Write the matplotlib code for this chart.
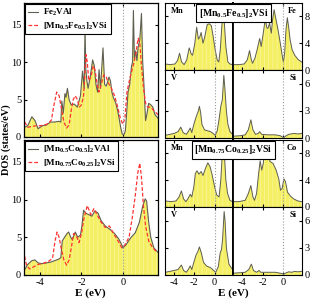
import numpy as np
import matplotlib
matplotlib.use("Agg")
import matplotlib.pyplot as plt

# ---------------------------------------------------------------------------
# data, (E in eV, DOS in states/eV)
# ---------------------------------------------------------------------------
fe2val = [(-4.75, 1.3), (-4.6, 1.5), (-4.4, 2.7), (-4.25, 2.2), (-4.1, 1.1), (-3.9, 1.5),
          (-3.7, 1.6), (-3.5, 2.0), (-3.3, 2.0), (-3.1, 2.1), (-3.0, 2.0), (-2.95, 4.8),
          (-2.88, 3.2), (-2.8, 5.8), (-2.75, 5.3), (-2.68, 6.5), (-2.6, 5.0), (-2.5, 4.3),
          (-2.35, 4.4), (-2.2, 4.0), (-2.05, 5.5), (-1.95, 8.8), (-1.87, 6.5), (-1.83, 14.5),
          (-1.79, 9.0), (-1.74, 7.5), (-1.68, 6.5), (-1.58, 8.0), (-1.46, 10.3), (-1.38, 9.5),
          (-1.3, 7.0), (-1.22, 6.0), (-1.15, 9.0), (-1.08, 6.5), (-0.96, 11.9), (-0.88, 7.0),
          (-0.8, 6.8), (-0.67, 8.0), (-0.6, 7.5), (-0.53, 6.0), (-0.45, 5.2), (-0.35, 4.6),
          (-0.25, 3.5), (-0.18, 2.5), (-0.1, 1.2), (-0.03, 0.4), (0.05, 0.3), (0.12, 0.8),
          (0.18, 3.0), (0.25, 6.0), (0.33, 7.0), (0.42, 9.5), (0.47, 10.0), (0.51, 16.9),
          (0.56, 10.5), (0.62, 11.5), (0.68, 10.2), (0.74, 12.0), (0.82, 13.0), (0.9, 16.5),
          (0.96, 10.0), (1.02, 7.0), (1.1, 2.2), (1.16, 3.0), (1.25, 4.5), (1.35, 4.3),
          (1.45, 4.0), (1.55, 3.0), (1.7, 2.5)]

mnfe_vsi = [(-4.75, 2.0), (-4.6, 1.3), (-4.4, 1.4), (-4.2, 1.5), (-4.0, 1.5), (-3.8, 1.6),
            (-3.6, 1.8), (-3.45, 2.3), (-3.35, 4.0), (-3.2, 6.0), (-3.08, 5.5), (-2.95, 3.5),
            (-2.85, 2.0), (-2.72, 1.2), (-2.6, 1.6), (-2.5, 3.5), (-2.4, 5.0), (-2.3, 5.5),
            (-2.2, 5.0), (-2.1, 4.0), (-2.0, 4.3), (-1.9, 5.5), (-1.83, 8.5), (-1.78, 11.0),
            (-1.72, 10.0), (-1.65, 7.5), (-1.55, 8.0), (-1.43, 9.5), (-1.35, 9.0), (-1.25, 7.2),
            (-1.15, 6.0), (-1.05, 7.0), (-0.92, 8.3), (-0.8, 8.0), (-0.7, 7.2), (-0.55, 6.5),
            (-0.4, 5.5), (-0.25, 4.0), (-0.12, 2.5), (0.0, 1.7), (0.1, 2.5), (0.2, 6.0),
            (0.35, 8.0), (0.5, 9.5), (0.62, 11.0), (0.74, 13.2), (0.82, 12.5), (0.9, 9.5),
            (1.0, 6.5), (1.1, 4.5), (1.2, 4.0), (1.35, 4.0), (1.5, 3.5), (1.7, 3.0)]

mnco_val = [(-4.75, 0.7), (-4.6, 1.4), (-4.4, 1.9), (-4.25, 2.0), (-4.1, 1.6), (-3.9, 1.5),
            (-3.7, 1.6), (-3.5, 1.7), (-3.3, 1.9), (-3.1, 2.1), (-3.0, 2.3), (-2.93, 4.5),
            (-2.82, 5.0), (-2.7, 5.5), (-2.62, 5.7), (-2.52, 5.0), (-2.45, 4.7), (-2.3, 5.7),
            (-2.18, 5.0), (-2.05, 5.3), (-1.98, 6.5), (-1.9, 8.6), (-1.8, 8.2), (-1.65, 8.0),
            (-1.5, 7.8), (-1.35, 8.5), (-1.2, 8.2), (-1.05, 7.2), (-0.85, 6.5), (-0.6, 6.0),
            (-0.4, 5.5), (-0.2, 4.8), (-0.05, 4.0), (0.0, 3.6), (0.15, 4.0), (0.4, 5.0),
            (0.6, 5.6), (0.8, 7.0), (0.95, 9.0), (1.08, 10.1), (1.15, 9.8), (1.25, 7.0),
            (1.35, 5.0), (1.5, 3.6), (1.7, 3.0)]

mnco_vsi = [(-4.75, 2.5), (-4.65, 1.2), (-4.5, 0.8), (-4.3, 1.1), (-4.1, 1.4), (-3.9, 1.5),
            (-3.6, 1.8), (-3.4, 2.2), (-3.28, 4.5), (-3.18, 5.7), (-3.08, 5.0), (-2.98, 3.5),
            (-2.85, 2.0), (-2.72, 1.3), (-2.6, 2.0), (-2.5, 3.5), (-2.38, 5.5), (-2.25, 5.2),
            (-2.12, 4.3), (-2.0, 5.5), (-1.88, 7.5), (-1.72, 9.2), (-1.55, 8.0), (-1.4, 8.8),
            (-1.25, 8.0), (-1.05, 7.0), (-0.85, 6.3), (-0.65, 6.5), (-0.45, 5.5), (-0.25, 4.6),
            (-0.05, 3.6), (0.1, 4.0), (0.3, 5.0), (0.45, 7.5), (0.6, 10.5), (0.72, 13.5),
            (0.82, 14.8), (0.9, 13.0), (1.0, 9.0), (1.1, 6.5), (1.25, 4.5), (1.4, 3.8),
            (1.55, 3.3), (1.7, 3.0)]

# partial DOS, [Mn0.5Fe0.5]2VSi
mn_fe = [(-4.85, 0.9), (-4.4, 0.8), (-3.9, 0.9), (-3.65, 1.4), (-3.45, 2.5), (-3.25, 1.2),
         (-3.0, 0.8), (-2.75, 1.5), (-2.5, 3.3), (-2.3, 2.4), (-2.17, 2.2), (-1.95, 4.0),
         (-1.77, 6.4), (-1.6, 4.6), (-1.45, 5.0), (-1.33, 5.6), (-1.15, 4.0), (-1.0, 4.8),
         (-0.73, 6.8), (-0.5, 6.9), (-0.33, 6.6), (-0.15, 5.0), (0.05, 3.0), (0.25, 1.5),
         (0.4, 1.2), (0.55, 3.0), (0.7, 6.5), (0.85, 9.0), (0.95, 7.0), (1.1, 3.5),
         (1.3, 1.2), (1.5, 0.9), (1.75, 0.8)]
fe_fe = [(-4.85, 0.8), (-4.3, 0.8), (-3.8, 0.9), (-3.5, 1.5), (-3.28, 2.9), (-3.1, 1.5),
         (-2.99, 1.0), (-2.75, 1.8), (-2.55, 3.0), (-2.3, 4.7), (-2.15, 3.5), (-1.95, 5.5),
         (-1.76, 7.6), (-1.6, 6.3), (-1.5, 6.2), (-1.34, 7.0), (-1.17, 5.5), (-1.05, 7.5),
         (-0.9, 9.0), (-0.75, 7.8), (-0.52, 6.0), (-0.3, 4.0), (-0.1, 2.0), (0.0, 1.2),
         (0.12, 2.5), (0.25, 6.0), (0.38, 7.8), (0.5, 6.5), (0.65, 4.5), (0.85, 3.0),
         (1.1, 2.2), (1.4, 1.6), (1.75, 1.2)]
v_fe = [(-4.85, 0.3), (-4.4, 0.4), (-4.0, 0.5), (-3.6, 0.7), (-3.33, 1.2), (-3.1, 0.6),
        (-2.8, 0.4), (-2.6, 0.7), (-2.4, 1.1), (-2.25, 0.6), (-2.05, 1.5), (-1.83, 2.3),
        (-1.6, 3.0), (-1.5, 3.5), (-1.38, 2.8), (-1.25, 1.5), (-1.0, 0.9), (-0.7, 0.8),
        (-0.4, 0.7), (-0.15, 0.5), (0.05, 0.3), (0.25, 0.8), (0.45, 2.2), (0.6, 3.5),
        (0.75, 4.2), (0.9, 6.9), (1.0, 5.5), (1.15, 3.0), (1.3, 1.5), (1.5, 0.7), (1.75, 0.4)]
si_fe = [(-4.85, 0.2), (-4.2, 0.25), (-3.7, 0.35), (-3.4, 0.9), (-3.15, 2.0), (-2.95, 0.9),
         (-2.7, 0.4), (-2.45, 0.5), (-2.3, 0.7), (-2.1, 0.4), (-1.5, 0.35), (-0.8, 0.35),
         (-0.3, 0.25), (-0.1, 0.1), (0.05, 0.05), (0.2, 0.2), (0.5, 0.4), (1.0, 0.5),
         (1.4, 0.45), (1.75, 0.5)]

# partial DOS, [Mn0.75Co0.25]2VSi
mn_co = [(-4.85, 0.9), (-4.3, 0.8), (-3.8, 0.9), (-3.5, 1.5), (-3.27, 2.4), (-3.05, 1.2),
         (-2.83, 0.8), (-2.6, 1.3), (-2.4, 1.9), (-2.25, 1.5), (-2.05, 3.0), (-1.9, 5.0),
         (-1.73, 5.4), (-1.55, 4.9), (-1.33, 5.3), (-1.15, 4.7), (-0.9, 5.8), (-0.67, 6.6),
         (-0.45, 6.0), (-0.25, 4.8), (0.0, 3.0), (0.2, 1.8), (0.43, 1.5), (0.6, 4.0),
         (0.75, 8.0), (0.85, 9.6), (0.95, 8.0), (1.1, 4.0), (1.27, 2.0), (1.5, 1.0), (1.75, 0.8)]
co_co = [(-4.85, 0.8), (-4.3, 0.8), (-3.7, 1.0), (-3.4, 2.0), (-3.15, 3.2), (-2.95, 1.5),
         (-2.8, 1.0), (-2.6, 2.0), (-2.4, 5.0), (-2.25, 6.9), (-2.1, 5.5), (-1.95, 6.5),
         (-1.8, 9.0), (-1.65, 9.5), (-1.5, 8.5), (-1.3, 6.8), (-1.0, 6.5), (-0.7, 5.5),
         (-0.45, 4.2), (-0.28, 2.5), (-0.12, 2.8), (0.05, 4.2), (0.2, 3.8), (0.4, 2.2),
         (0.7, 1.6), (1.0, 1.2), (1.4, 0.9), (1.75, 0.8)]
v_co = [(-4.85, 0.3), (-4.4, 0.4), (-4.0, 0.5), (-3.6, 0.6), (-3.27, 1.1), (-3.05, 0.5),
        (-2.8, 0.3), (-2.6, 0.6), (-2.4, 1.0), (-2.25, 0.6), (-2.05, 1.4), (-1.83, 2.2),
        (-1.65, 2.6), (-1.5, 3.1), (-1.3, 2.4), (-1.1, 1.4), (-0.8, 1.0), (-0.4, 0.8),
        (-0.1, 0.5), (0.1, 0.3), (0.35, 0.9), (0.55, 2.5), (0.67, 2.8), (0.78, 4.0),
        (0.93, 7.0), (1.02, 6.0), (1.15, 3.0), (1.4, 1.2), (1.75, 0.6)]
si_co = [(-4.85, 0.2), (-4.2, 0.25), (-3.7, 0.3), (-3.35, 0.6), (-3.1, 1.2), (-2.9, 0.5),
         (-2.6, 0.3), (-2.35, 0.5), (-2.2, 0.3), (-1.5, 0.3), (-0.8, 0.3), (-0.3, 0.2),
         (0.0, 0.1), (0.2, 0.2), (0.5, 0.35), (0.8, 0.3), (1.1, 0.4), (1.4, 0.35), (1.75, 0.4)]

legend_top = [r"$\mathbf{Fe_2VAl}$", r"$\mathbf{[Mn_{0.5}Fe_{0.5}]_2VSi}$"]
legend_bot = [r"$\mathbf{[Mn_{0.5}Co_{0.5}]_2VAl}$", r"$\mathbf{[Mn_{0.75}Co_{0.25}]_2VSi}$"]
box_top = r"$\mathbf{[Mn_{0.5}Fe_{0.5}]_2VSi}$"
box_bot = r"$\mathbf{[Mn_{0.75}Co_{0.25}]_2VSi}$"

# ---------------------------------------------------------------------------
plt.rcParams.update({
    "font.family": ["Liberation Serif", "DejaVu Serif"],
    "mathtext.fontset": "custom",
    "mathtext.rm": "Liberation Serif",
    "mathtext.bf": "Liberation Serif:bold",
    "axes.unicode_minus": False,
    "xtick.direction": "in",
    "ytick.direction": "in",
    "xtick.labelsize": 7.5,
    "ytick.labelsize": 7.5,
    "xtick.major.size": 2.5,
    "ytick.major.size": 2.5,
    "xtick.major.pad": 2,
    "ytick.major.pad": 2,
    "hatch.linewidth": 0.3,
})

YELLOW = "#f4ef63"
HATCH = "#fcfac8"
GREY = "#5e5e52"
RED = "#ff3333"
W, H = 310, 300


def rect(x0, y0, x1, y1):
    return [x0 / W, 1 - y1 / H, (x1 - x0) / W, (y1 - y0) / H]


def filled(ax, pts, lw=0.8):
    pts = np.array(pts)
    ax.fill_between(pts[:, 0], pts[:, 1], 0, facecolor=YELLOW, edgecolor=HATCH,
                    hatch="||||", linewidth=0)
    line, = ax.plot(pts[:, 0], pts[:, 1], color=GREY, lw=lw)
    return line


def fermi(ax):
    ax.axvline(0, color="#9a9a9a", ls=":", lw=0.8)


fig = plt.figure(figsize=(3.1, 3.0), dpi=100)

# big total DOS panels
for (y0, y1), gray, red, labels, show_x in [((3, 137), fe2val, mnfe_vsi, legend_top, False),
                                           ((140, 275), mnco_val, mnco_vsi, legend_bot, True)]:
    ax = fig.add_axes(rect(24, y0, 158, y1))
    g = filled(ax, gray)
    r = np.array(red)
    rl, = ax.plot(r[:, 0], r[:, 1], color=RED, lw=0.9, dashes=(3, 1.6))
    fermi(ax)
    ax.set_xlim(-4.78, 1.7)
    ax.set_ylim(0, 17.9)
    ax.set_xticks([-4, -2, 0])
    ax.set_yticks([0, 5, 10, 15])
    ax.tick_params(top=True, right=True)
    if not show_x:
        ax.tick_params(labelbottom=False)
    for s in ax.spines.values():
        s.set_linewidth(0.9)
    leg = ax.legend([g, rl], labels, loc="upper left", bbox_to_anchor=(0.0, 1.0),
                    borderaxespad=0.15, fontsize=6.5, handlelength=1.1, handletextpad=0.6,
                    borderpad=0.3, labelspacing=0.25, fancybox=False, framealpha=1)
    leg.get_frame().set_edgecolor("black")
    leg.get_frame().set_linewidth(0.8)

# partial DOS panels
blocks = [
    (3, [("Mn", mn_fe), ("Fe", fe_fe), ("V", v_fe), ("Si", si_fe)], box_top, False),
    (140, [("Mn", mn_co), ("Co", co_co), ("V", v_co), ("Si", si_co)], box_bot, True),
]
for top, panels, box, show_x in blocks:
    rows = [(top, top + 67), (top + 67, top + 135)]
    cols = [(165, 233), (233, 302)]
    for k, (name, pts) in enumerate(panels):
        r, c = divmod(k, 2)
        ax = fig.add_axes(rect(cols[c][0], rows[r][0], cols[c][1], rows[r][1]))
        filled(ax, pts, lw=0.7)
        fermi(ax)
        ax.set_xlim(-4.88, 1.8)
        if r == 0:
            ax.set_ylim(0, 10.0)
            ax.set_yticks([0, 4, 8])
        else:
            ax.set_ylim(0, 7.5)
            ax.set_yticks([0, 3, 6])
        ax.set_xticks([-4, -2, 0])
        ax.tick_params(top=True, labelbottom=(show_x and r == 1))
        if c == 0:
            ax.tick_params(left=True, right=False, labelleft=False)
            ax.text(0.08, 0.94, name, transform=ax.transAxes, ha="left", va="top",
                    fontsize=6, fontweight="bold")
        else:
            ax.tick_params(left=False, right=True, labelleft=False, labelright=True)
            ax.text(0.92, 0.94, name, transform=ax.transAxes, ha="right", va="top",
                    fontsize=6, fontweight="bold")
        for s in ax.spines.values():
            s.set_linewidth(0.8)
        ax.spines["right" if c == 0 else "left"].set_linewidth(1.3)
    fig.text(233.5 / W, 1 - (top + 10) / H, box, ha="center", va="center", fontsize=7,
             bbox=dict(boxstyle="square,pad=0.25", fc="white", ec="black", lw=0.8))

fig.text(6 / W, 0.535, "DOS (states/eV)", rotation=90, ha="center", va="center",
         fontsize=7.5, fontweight="bold")
fig.text(90 / W, 1 - 293 / H, "E (eV)", ha="center", va="center", fontsize=8,
         fontweight="bold")
fig.text(233 / W, 1 - 293 / H, "E (eV)", ha="center", va="center", fontsize=8,
         fontweight="bold")

fig.savefig("out.png", dpi=100)
